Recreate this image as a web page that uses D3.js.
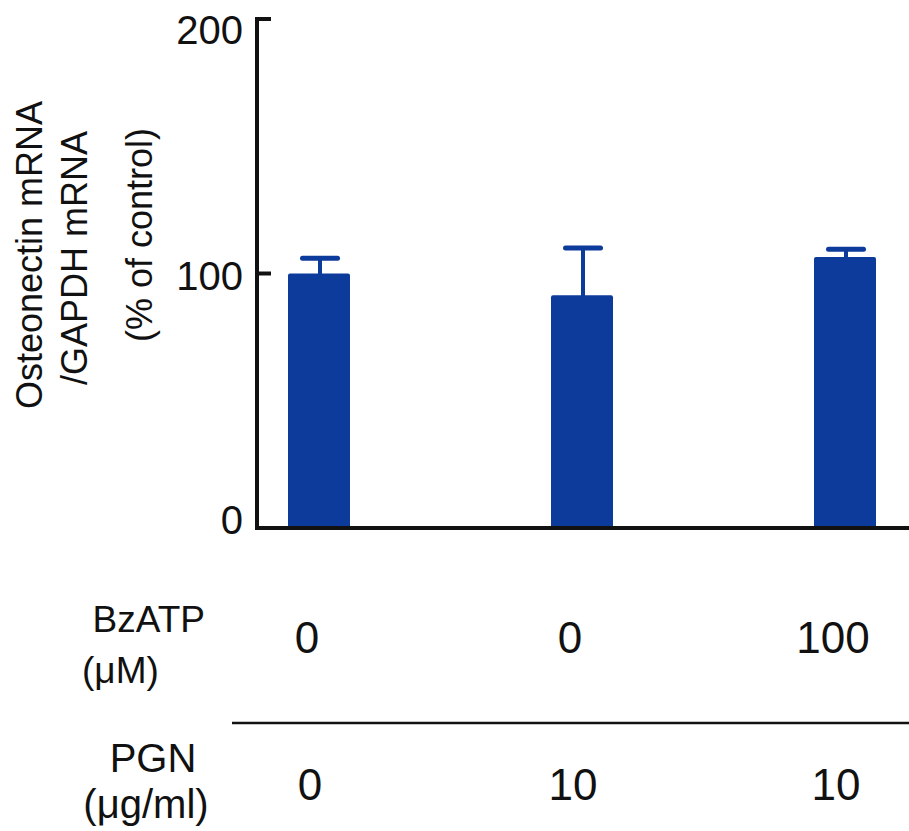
<!DOCTYPE html>
<html>
<head>
<meta charset="utf-8">
<script src="https://cdn.jsdelivr.net/npm/d3@7"></script>
<style>
  html, body { margin: 0; padding: 0; background: #ffffff; }
  svg { display: block; font-family: "Liberation Sans", Arial, Helvetica, sans-serif; }
</style>
</head>
<body>
<svg id="chart" width="909" height="831"></svg>
<script>
// ---- data ----
const groups = ["Control", "PGN", "PGN+BzATP"];
const values = [100, 91.5, 106.5];
const errors = [6, 18.5, 3];
const bzatpLabels = ["0", "0", "100"];
const pgnLabels = ["0", "10", "10"];
const yTicks = [0, 100, 200];
const yTitleLines = ["Osteonectin mRNA", "/GAPDH mRNA", "(% of control)"];

// ---- layout ----
const svg = d3.select("#chart");
const barColor = "#0c3b9b";
const axisX = 257, baseY = 528, topY = 19;
const barW = 62, capW = 35;

const y = d3.scaleLinear().domain([0, 200]).range([baseY, topY]);
const x = d3.scalePoint().domain(groups).range([319, 845]);

// bars
svg.append("g").selectAll("rect").data(groups).join("rect")
  .attr("x", d => x(d) - barW / 2)
  .attr("y", (d, i) => y(values[i]))
  .attr("width", barW)
  .attr("height", (d, i) => y(0) - y(values[i]))
  .attr("rx", 2)
  .attr("fill", barColor);

// error bars
const eg = svg.append("g").attr("stroke", barColor).attr("stroke-linecap", "round");
eg.selectAll("line.stem").data(groups).join("line").attr("class", "stem")
  .attr("x1", d => x(d) + 1).attr("x2", d => x(d) + 1)
  .attr("y1", (d, i) => y(values[i]) + 2)
  .attr("y2", (d, i) => y(values[i] + errors[i]))
  .attr("stroke-width", 4);
eg.selectAll("line.cap").data(groups).join("line").attr("class", "cap")
  .attr("x1", d => x(d) + 1 - capW / 2).attr("x2", d => x(d) + 1 + capW / 2)
  .attr("y1", (d, i) => y(values[i] + errors[i]))
  .attr("y2", (d, i) => y(values[i] + errors[i]))
  .attr("stroke-width", 5);

// axes
svg.append("line").attr("x1", axisX).attr("x2", axisX)
  .attr("y1", topY - 2).attr("y2", baseY + 2)
  .attr("stroke", "#111").attr("stroke-width", 4);
svg.append("line").attr("x1", axisX - 2).attr("x2", 909)
  .attr("y1", baseY).attr("y2", baseY)
  .attr("stroke", "#111").attr("stroke-width", 4);

// y ticks (inward)
svg.append("g").selectAll("line").data(yTicks.filter(t => t > 0)).join("line")
  .attr("x1", axisX).attr("x2", axisX + 14)
  .attr("y1", d => y(d)).attr("y2", d => y(d))
  .attr("stroke", "#111").attr("stroke-width", 4);

const labelNudge = v => (v === 200 ? 11 : v === 0 ? -8 : 2);
svg.append("g").selectAll("text").data(yTicks).join("text")
  .attr("x", 243)
  .attr("y", d => y(d) + labelNudge(d) + 14)
  .attr("text-anchor", "end")
  .attr("font-size", 40)
  .attr("fill", "#111")
  .text(d => d);

// y title
const titlePos = [[42, 255], [87, 258], [152, 235]];
svg.append("g").selectAll("text").data(yTitleLines).join("text")
  .attr("transform", (d, i) => `translate(${titlePos[i][0]},${titlePos[i][1]}) rotate(-90)`)
  .attr("text-anchor", "middle")
  .attr("font-size", 36)
  .attr("fill", "#111")
  .text(d => d);

// condition table
svg.append("text").attr("x", 205).attr("y", 632).attr("text-anchor", "end")
  .attr("font-size", 37).attr("fill", "#111").text("BzATP");
svg.append("text").attr("x", 82).attr("y", 683).attr("text-anchor", "start")
  .attr("font-size", 37).attr("fill", "#111").text("(\u03BCM)");
svg.append("text").attr("x", 153).attr("y", 772).attr("text-anchor", "middle")
  .attr("font-size", 40).attr("fill", "#111").text("PGN");
svg.append("text").attr("x", 146).attr("y", 818).attr("text-anchor", "middle")
  .attr("font-size", 40).attr("fill", "#111").text("(\u03BCg/ml)");

svg.append("line").attr("x1", 232).attr("x2", 909)
  .attr("y1", 723).attr("y2", 723)
  .attr("stroke", "#111").attr("stroke-width", 2.5);

svg.append("g").selectAll("text").data(groups).join("text")
  .attr("x", d => x(d) - 12)
  .attr("y", 653)
  .attr("text-anchor", "middle")
  .attr("font-size", 44).attr("fill", "#111")
  .text((d, i) => bzatpLabels[i]);
svg.append("g").selectAll("text").data(groups).join("text")
  .attr("x", d => x(d) - 9)
  .attr("y", 800)
  .attr("text-anchor", "middle")
  .attr("font-size", 44).attr("fill", "#111")
  .text((d, i) => pgnLabels[i]);
</script>
</body>
</html>
